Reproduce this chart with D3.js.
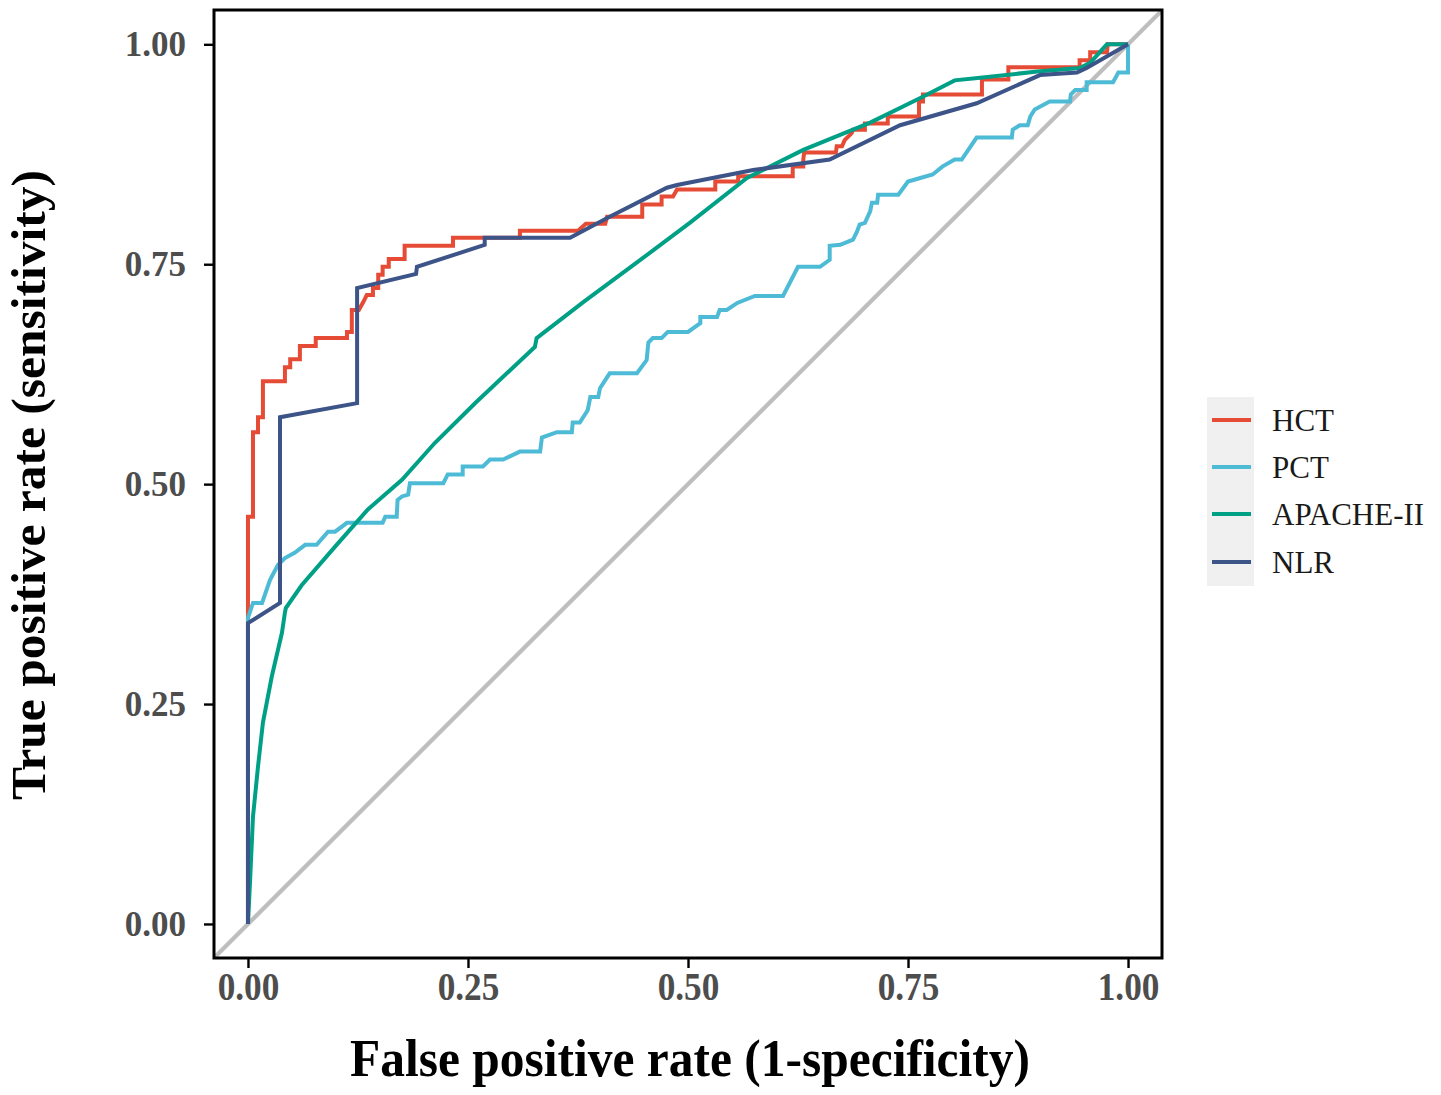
<!DOCTYPE html>
<html>
<head>
<meta charset="utf-8">
<script src="https://cdn.jsdelivr.net/npm/d3@7"></script>
<style>
  body { margin: 0; background: #fff; }
  svg { display: block; }
</style>
</head>
<body>
<div id="rocVis"></div>
<script>
const FRAME_WIDTH = 1441;
const FRAME_HEIGHT = 1095;
const PANEL = {left: 214, right: 1162, top: 10, bottom: 958};

// series names, legend order
const SERIES = ["HCT", "PCT", "APACHE-II", "NLR"];
const COLORS = ["#E64B35", "#4DBBD5", "#00A087", "#3C5488"];
const TICKS = [0, 0.25, 0.5, 0.75, 1];

// ROC vertices: [fpr, tpr]
const HCT = [
  [0, 0], [0, 0.463], [0.0057, 0.463], [0.0057, 0.559], [0.0114, 0.559], [0.0114, 0.576],
  [0.017, 0.576], [0.017, 0.617], [0.042, 0.617], [0.042, 0.633], [0.048, 0.633], [0.048, 0.642],
  [0.059, 0.642], [0.059, 0.657], [0.077, 0.657], [0.077, 0.666], [0.1125, 0.666], [0.1125, 0.673],
  [0.118, 0.673], [0.118, 0.698], [0.126, 0.698], [0.131, 0.707], [0.135, 0.715], [0.142, 0.715],
  [0.142, 0.723], [0.148, 0.723], [0.148, 0.738], [0.153, 0.738], [0.153, 0.747], [0.160, 0.747],
  [0.160, 0.756], [0.178, 0.756], [0.178, 0.771], [0.233, 0.771], [0.233, 0.780], [0.309, 0.780],
  [0.309, 0.788], [0.375, 0.788], [0.384, 0.796], [0.406, 0.796], [0.408, 0.804], [0.448, 0.804],
  [0.448, 0.818], [0.470, 0.818], [0.470, 0.827], [0.483, 0.827], [0.4875, 0.835], [0.531, 0.835],
  [0.531, 0.844], [0.557, 0.844], [0.557, 0.850], [0.619, 0.850], [0.619, 0.861], [0.631, 0.861],
  [0.631, 0.869], [0.632, 0.877], [0.668, 0.877], [0.669, 0.884], [0.675, 0.884], [0.678, 0.891],
  [0.686, 0.899], [0.6875, 0.903], [0.701, 0.903], [0.701, 0.910], [0.727, 0.910], [0.727, 0.918],
  [0.7625, 0.918], [0.7625, 0.935], [0.767, 0.935], [0.767, 0.943], [0.834, 0.943], [0.834, 0.960],
  [0.864, 0.960], [0.864, 0.974], [0.945, 0.974], [0.945, 0.982], [0.957, 0.982], [0.957, 0.991],
  [0.976, 0.991], [0.977, 1], [1, 1]
];

const PCT = [
  [0, 0], [0, 0.348], [0.0057, 0.365], [0.016, 0.365], [0.025, 0.391], [0.034, 0.408],
  [0.042, 0.416], [0.053, 0.422], [0.065, 0.431], [0.078, 0.431], [0.091, 0.446], [0.099, 0.446],
  [0.1125, 0.456], [0.153, 0.456], [0.156, 0.463], [0.169, 0.463], [0.170, 0.482], [0.175, 0.486],
  [0.182, 0.488], [0.184, 0.501], [0.222, 0.501], [0.227, 0.511], [0.244, 0.511], [0.244, 0.520],
  [0.267, 0.520], [0.275, 0.528], [0.290, 0.528], [0.309, 0.537], [0.332, 0.537], [0.334, 0.553],
  [0.351, 0.559], [0.368, 0.559], [0.369, 0.570], [0.377, 0.570], [0.386, 0.584], [0.389, 0.599],
  [0.398, 0.599], [0.4, 0.609], [0.411, 0.626], [0.442, 0.626], [0.453, 0.641], [0.455, 0.661],
  [0.460, 0.666], [0.470, 0.666], [0.477, 0.673], [0.5, 0.673], [0.514, 0.683], [0.514, 0.690],
  [0.533, 0.690], [0.536, 0.698], [0.544, 0.698], [0.556, 0.706], [0.576, 0.714], [0.608, 0.714],
  [0.625, 0.747], [0.65, 0.747], [0.661, 0.755], [0.661, 0.771], [0.673, 0.772], [0.6875, 0.778],
  [0.692, 0.787], [0.695, 0.795], [0.701, 0.797], [0.707, 0.810], [0.709, 0.820], [0.715, 0.820],
  [0.716, 0.829], [0.739, 0.829], [0.75, 0.844], [0.764, 0.848], [0.778, 0.852], [0.789, 0.861],
  [0.803, 0.869], [0.811, 0.869], [0.828, 0.894], [0.868, 0.894], [0.869, 0.903], [0.877, 0.908],
  [0.886, 0.908], [0.889, 0.918], [0.894, 0.926], [0.911, 0.935], [0.934, 0.935], [0.935, 0.943],
  [0.940, 0.948], [0.953, 0.948], [0.953, 0.957], [0.983, 0.957], [0.989, 0.968], [1, 0.968], [1, 1]
];

const APACHE = [
  [0, 0], [0.0023, 0.047], [0.0057, 0.122], [0.0114, 0.179], [0.017, 0.229], [0.027, 0.281],
  [0.0386, 0.331], [0.042, 0.354], [0.043, 0.359], [0.061, 0.385], [0.099, 0.429], [0.136, 0.471],
  [0.175, 0.505], [0.2125, 0.547], [0.258, 0.592], [0.326, 0.656], [0.328, 0.666], [0.381, 0.707],
  [0.442, 0.752], [0.502, 0.797], [0.567, 0.848], [0.631, 0.880], [0.707, 0.911], [0.764, 0.939],
  [0.803, 0.959], [0.832, 0.962], [0.897, 0.969], [0.945, 0.973], [0.957, 0.979], [0.976, 1], [1, 1]
];

const NLR = [
  [0, 0], [0, 0.342], [0.0364, 0.365], [0.0364, 0.576], [0.124, 0.592], [0.124, 0.723],
  [0.191, 0.739], [0.192, 0.747], [0.269, 0.772], [0.269, 0.780], [0.366, 0.780], [0.411, 0.804],
  [0.476, 0.837], [0.4875, 0.840], [0.574, 0.857], [0.661, 0.869], [0.741, 0.908], [0.828, 0.933],
  [0.9, 0.965], [0.942, 0.968], [0.953, 0.973], [1, 1]
];

const CURVES = [HCT, PCT, APACHE, NLR];

const SVG = d3.select("#rocVis")
  .append("svg")
    .attr("width", FRAME_WIDTH)
    .attr("height", FRAME_HEIGHT);

SVG.append("rect")
  .attr("width", FRAME_WIDTH)
  .attr("height", FRAME_HEIGHT)
  .attr("fill", "#fff");

// ggplot style expansion around 0..1
const X_SCALE = d3.scaleLinear()
  .domain([-0.0386, 1.0386])
  .range([PANEL.left, PANEL.right]);

const Y_SCALE = d3.scaleLinear()
  .domain([-0.0387, 1.039])
  .range([PANEL.bottom, PANEL.top]);

SVG.append("clipPath")
  .attr("id", "panelClip")
  .append("rect")
    .attr("x", PANEL.left)
    .attr("y", PANEL.top)
    .attr("width", PANEL.right - PANEL.left)
    .attr("height", PANEL.bottom - PANEL.top);

const PLOT = SVG.append("g").attr("clip-path", "url(#panelClip)");

// reference diagonal
PLOT.append("line")
  .attr("x1", X_SCALE(-0.05)).attr("y1", Y_SCALE(-0.05))
  .attr("x2", X_SCALE(1.05)).attr("y2", Y_SCALE(1.05))
  .attr("stroke", "#bebebe")
  .attr("stroke-width", 4.2);

const LINE = d3.line()
  .x((d) => X_SCALE(d[0]))
  .y((d) => Y_SCALE(d[1]));

PLOT.selectAll(".roc")
  .data(CURVES)
  .enter()
  .append("path")
    .attr("class", "roc")
    .attr("d", LINE)
    .attr("fill", "none")
    .attr("stroke", (d, i) => COLORS[i])
    .attr("stroke-width", 4)
    .attr("stroke-linejoin", "miter");

// panel border
SVG.append("rect")
  .attr("x", PANEL.left)
  .attr("y", PANEL.top)
  .attr("width", PANEL.right - PANEL.left)
  .attr("height", PANEL.bottom - PANEL.top)
  .attr("fill", "none")
  .attr("stroke", "#000")
  .attr("stroke-width", 3);

// y axis
const Y_AXIS = SVG.append("g")
  .attr("transform", "translate(" + PANEL.left + ",0)")
  .call(d3.axisLeft(Y_SCALE).tickValues(TICKS).tickFormat(d3.format(".2f"))
    .tickSize(10).tickPadding(18));

// x axis
const X_AXIS = SVG.append("g")
  .attr("transform", "translate(0," + PANEL.bottom + ")")
  .call(d3.axisBottom(X_SCALE).tickValues(TICKS).tickFormat(d3.format(".2f"))
    .tickSize(10).tickPadding(3));

[Y_AXIS, X_AXIS].forEach((ax) => {
  ax.select(".domain").remove();
  ax.selectAll(".tick line").attr("stroke", "#000").attr("stroke-width", 2.4);
  ax.selectAll(".tick text")
    .attr("fill", "#4d4d4d")
    .attr("font-family", "'Liberation Serif', 'Times New Roman', serif")
    .attr("font-weight", "bold");
});

Y_AXIS.selectAll(".tick text").attr("font-size", "35px");
X_AXIS.selectAll(".tick text")
  .attr("font-size", "41px")
  .attr("transform", "scale(0.86,1)");

// axis titles
SVG.append("text")
  .attr("x", 690)
  .attr("y", 1076)
  .attr("text-anchor", "middle")
  .attr("font-family", "'Liberation Serif', 'Times New Roman', serif")
  .attr("font-weight", "bold")
  .attr("font-size", "52px")
  .attr("textLength", 680)
  .attr("lengthAdjust", "spacingAndGlyphs")
  .text("False positive rate (1-specificity)");

SVG.append("text")
  .attr("transform", "translate(45,485) rotate(-90)")
  .attr("text-anchor", "middle")
  .attr("font-family", "'Liberation Serif', 'Times New Roman', serif")
  .attr("font-weight", "bold")
  .attr("font-size", "48px")
  .attr("textLength", 630)
  .attr("lengthAdjust", "spacingAndGlyphs")
  .text("True positive rate (sensitivity)");

// legend
const LEGEND_Y = [420, 467, 514, 562];

SVG.append("rect")
  .attr("x", 1207)
  .attr("y", 397)
  .attr("width", 47)
  .attr("height", 189)
  .attr("fill", "#f0f0f0");

const LEGEND = SVG.selectAll(".key")
  .data(SERIES)
  .enter()
  .append("g")
    .attr("class", "key")
    .attr("transform", (d, i) => "translate(0," + LEGEND_Y[i] + ")");

LEGEND.append("line")
  .attr("x1", 1212).attr("x2", 1251)
  .attr("stroke", (d, i) => COLORS[i])
  .attr("stroke-width", 4);

LEGEND.append("text")
  .attr("x", 1272)
  .attr("dy", "0.34em")
  .attr("font-family", "'Liberation Serif', 'Times New Roman', serif")
  .attr("font-size", "31px")
  .attr("fill", "#1a1a1a")
  .text((d) => d);
</script>
</body>
</html>
